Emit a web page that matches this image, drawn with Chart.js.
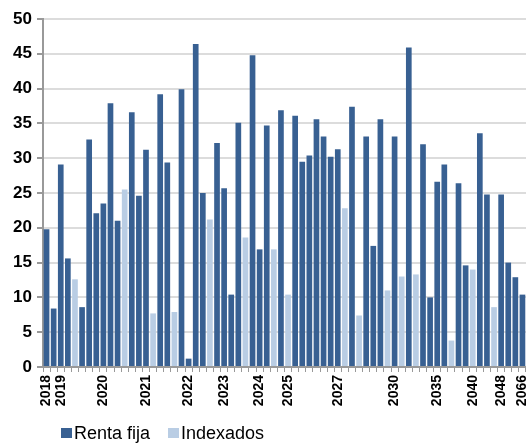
<!DOCTYPE html>
<html>
<head>
<meta charset="utf-8">
<script src="https://cdn.jsdelivr.net/npm/chart.js@4.4.1/dist/chart.umd.min.js"></script>
<style>
  html, body { margin: 0; padding: 0; background: #fff; }
  #wrap { position: relative; width: 526px; height: 443px; }
  #legend {
    position: absolute; left: 61px; top: 423px;
    display: flex; align-items: center;
    font: 18px 'Liberation Sans', Arial, sans-serif; line-height: 20px; color: #000;
  }
  #legend .box { display: inline-block; width: 11px; height: 10px; margin-right: 2px; }
  #legend .item { display: flex; align-items: center; margin-right: 18px; }
</style>
</head>
<body>
<div id="wrap">
  <canvas id="chart" width="526" height="443"></canvas>
  <div id="legend">
    <div class="item"><span class="box" style="background:#386092"></span>Renta fija</div>
    <div class="item"><span class="box" style="background:#B9CDE4"></span>Indexados</div>
  </div>
</div>
<script>
// Categories (only some carry a year label)
const labels = [
  '2018', '', '2019', '', '', '', '', '', '2020', '', '', '', '', '', '2021', '', '', '', '', '',
  '2022', '', '', '', '', '2023', '', '', '', '', '2024', '', '', '', '2025', '', '', '', '', '',
  '', '2027', '', '', '', '', '', '', '', '2030', '', '', '', '', '', '2035', '', '', '', '',
  '2040', '', '', '', '2048', '', '', '2066'
];

// Renta fija (dark) values, null where the slot is an Indexados bar
const rentaFija = [
  19.8, 8.4, 29.1, 15.6, null, 8.6, 32.7, 22.1, 23.5, 37.9, 21.0, null, 36.6, 24.6, 31.2, null, 39.2, 29.4, null, 39.9,
  1.2, 46.4, 25.0, null, 32.2, 25.7, 10.4, 35.1, null, 44.8, 16.9, 34.7, null, 36.9, null, 36.1, 29.5, 30.4, 35.6, 33.1,
  30.2, 31.3, null, 37.4, null, 33.1, 17.4, 35.6, null, 33.1, null, 45.9, null, 32.0, 10.0, 26.6, 29.1, null, 26.4, 14.6,
  null, 33.6, 24.8, null, 24.8, 15.0, 12.9, 10.4
];

// Indexados (light) values
const indexados = [
  null, null, null, null, 12.6, null, null, null, null, null, null, 25.5, null, null, null, 7.7, null, null, 7.9, null,
  null, null, null, 21.2, null, null, null, null, 18.6, null, null, null, 16.9, null, 10.4, null, null, null, null, null,
  null, null, 22.8, null, 7.4, null, null, null, 11.0, null, 13.0, null, 13.3, null, null, null, null, 3.8, null, null,
  14.0, null, null, 8.6, null, null, null, null
];

const yTicks = { min: 0, max: 50, step: 5 };

const DARK = '#386092';
const LIGHT = '#B9CDE4';
const FONT = "'Liberation Sans', Arial, sans-serif";

new Chart(document.getElementById('chart'), {
  type: 'bar',
  data: {
    labels: labels,
    datasets: [
      { label: 'Renta fija', data: rentaFija, backgroundColor: DARK, barPercentage: 0.8, categoryPercentage: 1 },
      { label: 'Indexados', data: indexados, backgroundColor: LIGHT, barPercentage: 0.8, categoryPercentage: 1 }
    ]
  },
  options: {
    responsive: false,
    animation: false,
    layout: { padding: { top: 19, right: 0, left: 0, bottom: 0 } },
    plugins: { legend: { display: false }, tooltip: { enabled: false } },
    scales: {
      x: {
        stacked: true,
        grid: { drawOnChartArea: false, tickLength: 5, color: '#999', offset: true },
        border: { color: '#999', width: 2 },
        ticks: {
          autoSkip: false, maxRotation: 90, minRotation: 90, padding: 3,
          color: '#000', font: { family: FONT, size: 14, weight: 'bold' }
        },
        afterFit: s => { s.height = 76; s.paddingLeft = 0; s.paddingRight = 0; }
      },
      y: {
        min: yTicks.min, max: yTicks.max,
        grid: { color: '#dcdcdc', lineWidth: 2, tickLength: 6, tickColor: '#999' },
        border: { color: '#999', width: 2 },
        ticks: {
          stepSize: yTicks.step, padding: 5, color: '#000',
          font: { family: FONT, size: 17, weight: 'bold' }
        },
        afterFit: s => { s.width = 43; }
      }
    }
  }
});
</script>
</body>
</html>
